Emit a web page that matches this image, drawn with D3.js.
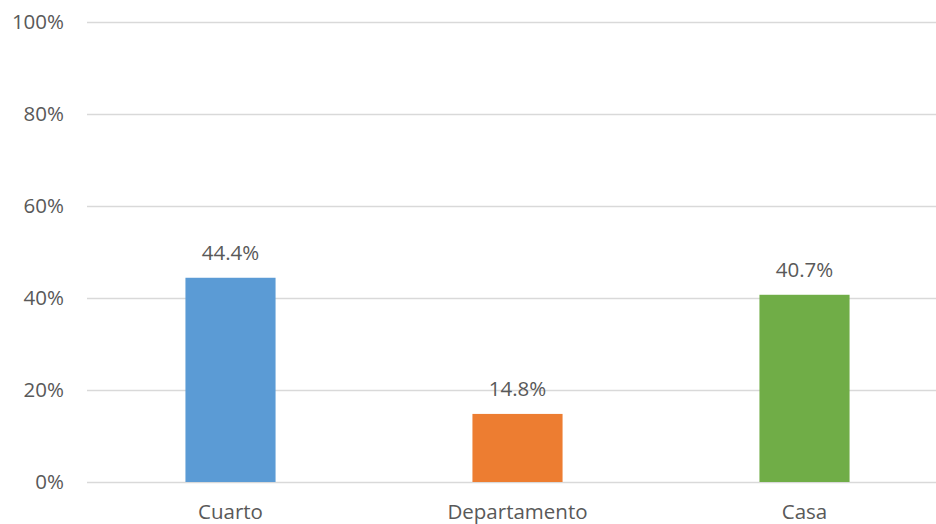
<!DOCTYPE html>
<html>
<head>
<meta charset="utf-8">
<script src="https://cdn.jsdelivr.net/npm/d3@7"></script>
<style>
  body { margin: 0; background: #fff; }
  text { font-family: "Open Sans", "Noto Sans", sans-serif; fill: #595959; }
</style>
</head>
<body>
<div id="chart"></div>
<script>
const categories = ["Cuarto", "Departamento", "Casa"];
const values = [0.444, 0.148, 0.407];
const colors = ["#5B9BD5", "#ED7D31", "#70AD47"];
const yTicks = [0, 0.2, 0.4, 0.6, 0.8, 1.0];

const W = 936, H = 524;
const margin = { top: 22, right: 0, bottom: 42, left: 87 };
const fontSize = "20.5px";

const svg = d3.select("#chart")
  .append("svg")
  .attr("width", W)
  .attr("height", H);

const x = d3.scaleBand()
  .domain(categories)
  .range([margin.left, margin.left + 287 * 3])
  .paddingInner(0.686)
  .paddingOuter(0.343);

const y = d3.scaleLinear()
  .domain([0, 1])
  .range([H - margin.bottom, margin.top]);

// gridlines
svg.append("g")
  .selectAll("line")
  .data(yTicks)
  .join("line")
  .attr("x1", margin.left)
  .attr("x2", W)
  .attr("y1", d => Math.round(y(d)) + 0.5)
  .attr("y2", d => Math.round(y(d)) + 0.5)
  .attr("stroke", "#d9d9d9")
  .attr("stroke-width", 1.3);

// y labels
svg.append("g")
  .selectAll("text")
  .data(yTicks)
  .join("text")
  .attr("x", 64)
  .attr("y", d => y(d))
  .attr("dy", "0.35em")
  .attr("text-anchor", "end")
  .style("font-size", fontSize)
  .text(d3.format(".0%"));

// bars
svg.append("g")
  .selectAll("rect")
  .data(values)
  .join("rect")
  .attr("x", (d, i) => x(categories[i]))
  .attr("y", d => y(d))
  .attr("width", x.bandwidth())
  .attr("height", d => y(0) - y(d))
  .attr("fill", (d, i) => colors[i]);

// value labels
svg.append("g")
  .selectAll("text")
  .data(values)
  .join("text")
  .attr("x", (d, i) => x(categories[i]) + x.bandwidth() / 2)
  .attr("y", d => y(d) - 18)
  .attr("text-anchor", "middle")
  .style("font-size", fontSize)
  .text(d3.format(".1%"));

// category labels
svg.append("g")
  .selectAll("text")
  .data(categories)
  .join("text")
  .attr("x", d => x(d) + x.bandwidth() / 2)
  .attr("y", H - margin.bottom + 37)
  .attr("text-anchor", "middle")
  .style("font-size", fontSize)
  .text(d => d);
</script>
</body>
</html>
